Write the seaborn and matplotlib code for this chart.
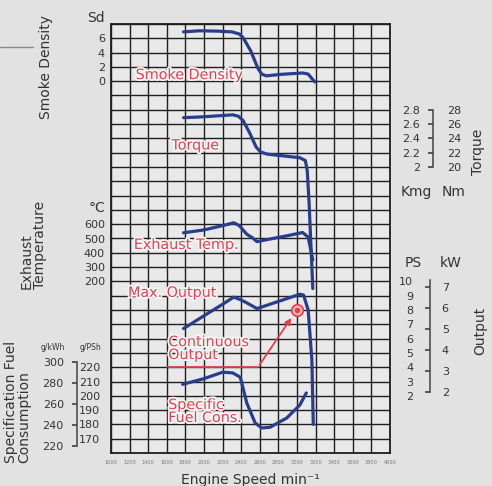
import matplotlib
matplotlib.use("Agg")
import matplotlib.pyplot as plt
import matplotlib.patheffects as pe
from matplotlib.lines import Line2D
import pandas as pd
import seaborn as sns

# --- values ----------------------------------------------------------
rpm_ticks = list(range(1000, 4001, 200))

smoke_rpm = [1780, 1950, 2150, 2300, 2380, 2420, 2500, 2580, 2620, 2670, 2820, 3060, 3120, 3190]
smoke_sd = [6.9, 7.05, 7.0, 6.9, 6.6, 6.1, 4.3, 1.8, 1.0, 0.75, 0.95, 1.15, 1.0, -0.1]

torque_rpm = [1780, 1960, 2200, 2310, 2370, 2420, 2490, 2560, 2610, 2680, 2890, 3030, 3090, 3110, 3130, 3170]
torque_nm = [26.9, 27.0, 27.2, 27.3, 27.1, 26.5, 24.8, 22.8, 22.1, 21.8, 21.5, 21.3, 20.9, 19.5, 15.0, 3.0]

exhaust_rpm = [1780, 2000, 2200, 2320, 2380, 2460, 2520, 2570, 2700, 2900, 3060, 3120, 3170]
exhaust_c = [540, 560, 590, 610, 590, 530, 505, 478, 495, 520, 542, 510, 350]

output_rpm = [1780, 2000, 2200, 2320, 2400, 2460, 2570, 2800, 3030, 3070, 3120, 3160, 3175]
output_ps = [6.7, 7.6, 8.4, 8.9, 8.7, 8.5, 8.1, 8.6, 9.1, 9.05, 8.0, 4.5, 0.0]

fuel_rpm = [1770, 2000, 2200, 2310, 2390, 2460, 2550, 2620, 2710, 2890, 3030, 3100]
fuel_gpsh = [208, 212, 216.5, 216, 213, 195, 181, 177.5, 178, 184.5, 193.5, 202]

cont_rpm = [3000]
cont_ps = [8.0]
cont_leader_rpm = [1615, 2580]
cont_leader_ps = [4.0, 4.0]
cont_arrow_tip = (2955, 7.6)

sd_ticks = [0, 2, 4, 6]
temp_ticks = [200, 300, 400, 500, 600]
nm_ticks = [20, 22, 24, 26, 28]
kgm_ticks = [2.0, 2.2, 2.4, 2.6, 2.8]
kgm_labels = ["2", "2.2", "2.4", "2.6", "2.8"]
ps_ticks = [2, 3, 4, 5, 6, 7, 8, 9, 10]
kw_ticks = [2, 3, 4, 5, 6, 7]
gkwh_ticks = [220, 240, 260, 280, 300]
gpsh_ticks = [170, 180, 190, 200, 210, 220]

BLUE = "#2a3d8c"
RED = "#e4404c"
INK = "#333333"
BG = "#e2e2e2"

# each quantity sits in its own band of the 30 row grid
sd_y = lambda v: 26 + v / 2
nm_y = lambda v: 10 + v / 2
kgm_y = lambda v: 10 + 5 * v
temp_y = lambda v: 10 + v / 100
ps_y = lambda v: 2 + v
kw_y = lambda v: 1.33 + 1.468 * v
gpsh_y = lambda v: v / 10 - 16
gkwh_y = lambda v: 0.0734 * v - 15.66

sns.set_theme(style="white")
plt.rcParams["font.family"] = ["DejaVu Sans"]

fig = plt.figure(figsize=(4.92, 4.86), dpi=100, facecolor=BG)
ax = fig.add_axes([111 / 492, 1 - 453 / 486, 279 / 492, 429 / 486])
ax.set_facecolor("#e9e9e9")
ax.set_xlim(1000, 4000)
ax.set_ylim(0, 30)
ax.set_xticks(rpm_ticks)
ax.set_xticklabels([str(v) for v in rpm_ticks], fontsize=3.6, color="#777777")
ax.set_yticks(range(31))
ax.set_yticklabels([])
ax.tick_params(length=0)
ax.tick_params(axis="x", pad=5)
ax.grid(True, color="#1e1e1e", lw=1.0)
for s in ax.spines.values():
    s.set_color("#1e1e1e")
    s.set_linewidth(1.3)

curves = [
    (smoke_rpm, [sd_y(v) for v in smoke_sd]),
    (torque_rpm, [nm_y(v) for v in torque_nm]),
    (exhaust_rpm, [temp_y(v) for v in exhaust_c]),
    (output_rpm, [ps_y(v) for v in output_ps]),
    (fuel_rpm, [gpsh_y(v) for v in fuel_gpsh]),
]
for xs, ys in curves:
    df = pd.DataFrame({"rpm": xs, "y": ys})
    sns.lineplot(data=df, x="rpm", y="y", ax=ax, color=BLUE, lw=2.3,
                 sort=False, estimator=None)
ax.set_ylabel("")

# continuous output point and its leader
ax.plot(cont_leader_rpm, [ps_y(v) for v in cont_leader_ps], color=RED, lw=1.3)
ax.annotate("", xy=(cont_arrow_tip[0], ps_y(cont_arrow_tip[1])),
            xytext=(cont_leader_rpm[1], ps_y(cont_leader_ps[1])),
            arrowprops=dict(arrowstyle="-|>", color=RED, lw=1.3, mutation_scale=9))
ax.scatter(cont_rpm, [ps_y(v) for v in cont_ps], s=70, facecolor="#f3b0b0",
           edgecolor=RED, linewidth=1.2, zorder=5)
ax.scatter(cont_rpm, [ps_y(v) for v in cont_ps], s=8, color=RED, zorder=6)

halo = [pe.withStroke(linewidth=2.5, foreground="#f6f6f6")]
red_kw = dict(color=RED, fontsize=10.3, path_effects=halo, zorder=7)
ax.text(1840, sd_y(0.85), "Smoke Density", ha="center", va="center", **red_kw)
ax.text(1905, nm_y(23), "Torque", ha="center", va="center", **red_kw)
ax.text(1806, temp_y(455), "Exhaust Temp.", ha="center", va="center", **red_kw)
ax.text(1656, ps_y(9.2), "Max. Output", ha="center", va="center", **red_kw)
ax.text(1615, ps_y(5.3), "Continuous\nOutput", ha="left", va="center",
        linespacing=0.9, **red_kw)
ax.text(1615, gpsh_y(189), "Specific\nFuel Cons.", ha="left", va="center",
        linespacing=0.9, **red_kw)


def add_scale(loc, fwd, inv, ticks, side, labels=None, pad=3, tick_len=0,
              direction="out", bounds=None, fs=8):
    sec = ax.secondary_yaxis(loc, functions=(fwd, inv))
    sec.set_alignment(side)
    sec.set_ticks(ticks, labels=labels)
    sec.tick_params(length=tick_len, width=1.1, pad=pad, direction=direction,
                    labelsize=fs, colors=INK)
    for s in sec.spines.values():
        s.set_visible(False)
    if bounds:
        sec.spines[side].set_visible(True)
        sec.spines[side].set_bounds(*bounds)
        sec.spines[side].set_color("#444444")
        sec.spines[side].set_linewidth(1.1)
    return sec


# left scales
add_scale(0.0, lambda y: 2 * (y - 26), sd_y, sd_ticks, "left", pad=4.5)
add_scale(0.0, lambda y: 100 * (y - 10), temp_y, temp_ticks, "left", pad=4.5)
add_scale(-0.122, lambda y: (y + 15.66) / 0.0734, gkwh_y, gkwh_ticks, "left",
          pad=6, tick_len=3.5, direction="out", bounds=(220, 300))
add_scale(-0.122, lambda y: (y + 16) * 10, gpsh_y, gpsh_ticks, "right", pad=1.5)

# right scales
add_scale(1.154, lambda y: 2 * (y - 10), nm_y, nm_ticks, "right", pad=10.5,
          tick_len=3.5, direction="in", bounds=(20, 28))
add_scale(1.154, lambda y: (y - 10) / 5, kgm_y, kgm_ticks, "left",
          labels=kgm_labels, pad=9.5)
add_scale(1.143, lambda y: (y - 1.33) / 1.468, kw_y, kw_ticks, "right", pad=8.5,
          tick_len=3.5, direction="in", bounds=(2, 7.35))
add_scale(1.143, lambda y: y - 2, ps_y, ps_ticks, "left", pad=12)

ax.set_xlabel("Engine Speed min⁻¹", fontsize=10, color=INK, labelpad=6)

# axis titles and units
tkw = dict(color=INK, fontsize=10)
fig.text(46 / 492, 1 - 67 / 486, "Smoke Density", rotation=90, ha="center", va="center", **tkw)
fig.text(33 / 492, 1 - 289 / 486, "Exhaust\nTemperature", rotation=90, ha="center",
         va="bottom", multialignment="left", linespacing=0.95, **tkw)
fig.text(18 / 492, 1 - 463 / 486, "Specification Fuel\nConsumption", rotation=90,
         ha="center", va="bottom", multialignment="left", linespacing=0.95, **tkw)
fig.text(478 / 492, 1 - 152 / 486, "Torque", rotation=90, ha="center", va="center", **tkw)
fig.text(480 / 492, 1 - 331 / 486, "Output", rotation=90, ha="center", va="center", **tkw)
fig.text(96 / 492, 1 - 18 / 486, "Sd", ha="center", va="center", **tkw)
fig.text(97 / 492, 1 - 208 / 486, "°C", ha="center", va="center", **tkw)
fig.text(416 / 492, 1 - 192 / 486, "Kmg", ha="center", va="center", **tkw)
fig.text(454 / 492, 1 - 192 / 486, "Nm", ha="center", va="center", **tkw)
fig.text(413 / 492, 1 - 263 / 486, "PS", ha="center", va="center", **tkw)
fig.text(451 / 492, 1 - 263 / 486, "kW", ha="center", va="center", **tkw)
fig.text(53 / 492, 1 - 347 / 486, "g/kWh", ha="center", va="center", color=INK, fontsize=5.5)
fig.text(90 / 492, 1 - 347 / 486, "g/PSh", ha="center", va="center", color=INK, fontsize=5.5)

fig.add_artist(Line2D([0, 33 / 492], [1 - 47 / 486, 1 - 47 / 486], color="#8a8a8a", lw=1))

fig.savefig("out.png", dpi=100, facecolor=fig.get_facecolor())
